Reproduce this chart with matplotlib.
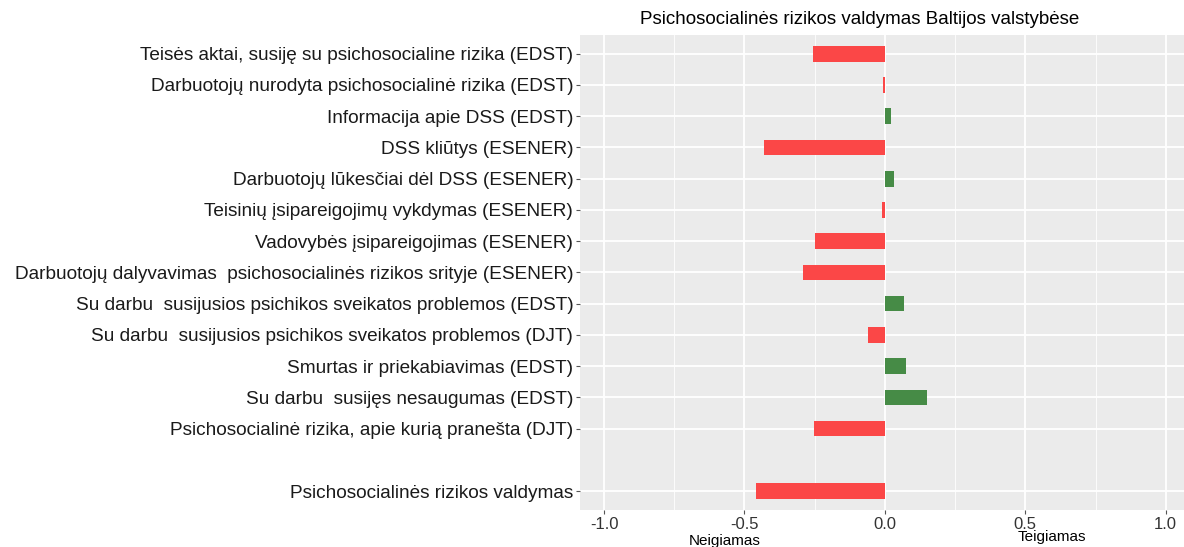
import numpy as np
import matplotlib.pyplot as plt

plt.rcParams['font.family'] = ['Liberation Sans', 'DejaVu Sans']

categories = [
    "Teisės aktai, susiję su psichosocialine rizika (EDST)",
    "Darbuotojų nurodyta psichosocialinė rizika (EDST)",
    "Informacija apie DSS (EDST)",
    "DSS kliūtys (ESENER)",
    "Darbuotojų lūkesčiai dėl DSS (ESENER)",
    "Teisinių įsipareigojimų vykdymas (ESENER)",
    "Vadovybės įsipareigojimas (ESENER)",
    "Darbuotojų dalyvavimas  psichosocialinės rizikos srityje (ESENER)",
    "Su darbu  susijusios psichikos sveikatos problemos (EDST)",
    "Su darbu  susijusios psichikos sveikatos problemos (DJT)",
    "Smurtas ir priekabiavimas (EDST)",
    "Su darbu  susijęs nesaugumas (EDST)",
    "Psichosocialinė rizika, apie kurią pranešta (DJT)",
    "Psichosocialinės rizikos valdymas",
]
values = [-0.255, -0.005, 0.02, -0.432, 0.033, -0.011, -0.25, -0.29,
          0.067, -0.06, 0.075, 0.15, -0.253, -0.458]
# the summary row sits one empty slot below the others
positions = list(range(13)) + [14]

title = "Psichosocialinės rizikos valdymas Baltijos valstybėse"
x_ticks = [-1.0, -0.5, 0.0, 0.5, 1.0]

red = "#FB4747"
green = "#468B46"
colors = [green if v > 0 else red for v in values]

fig = plt.figure(figsize=(11.84, 5.47), dpi=100)
ax = fig.add_axes([0.49, 0.068, 0.51, 0.868])
ax.set_facecolor("#EBEBEB")

ax.set_axisbelow(True)
for x in np.arange(-1.0, 1.01, 0.25):
    major = abs(x * 2 - round(x * 2)) < 1e-9
    ax.axvline(x, color="white", lw=1.3 if major else 0.6, zorder=0)
for y in positions:
    ax.axhline(y, color="white", lw=1.3, zorder=0)

ax.barh(positions, values, height=0.5, color=colors, zorder=2)

ax.set_xlim(-1.085, 1.065)
ax.set_ylim(14.6, -0.6)
ax.set_yticks(positions)
ax.set_yticklabels(categories, fontsize=13.7, color="#1a1a1a")
ax.set_xticks(x_ticks)
ax.set_xticklabels([f"{t:.1f}" for t in x_ticks], fontsize=12, color="#333333")
ax.tick_params(axis="both", length=3, color="#555555", pad=2)
for s in ax.spines.values():
    s.set_visible(False)

fig.text(860 / 1184, 1 - 20 / 547, title, fontsize=13.5, ha="center", va="center")

ax.text(-0.57, -0.05, "Neigiamas", transform=ax.get_xaxis_transform(),
        ha="center", va="top", fontsize=11)
ax.text(0.595, -0.043, "Teigiamas", transform=ax.get_xaxis_transform(),
        ha="center", va="top", fontsize=11)

fig.savefig("out.png", dpi=100)
